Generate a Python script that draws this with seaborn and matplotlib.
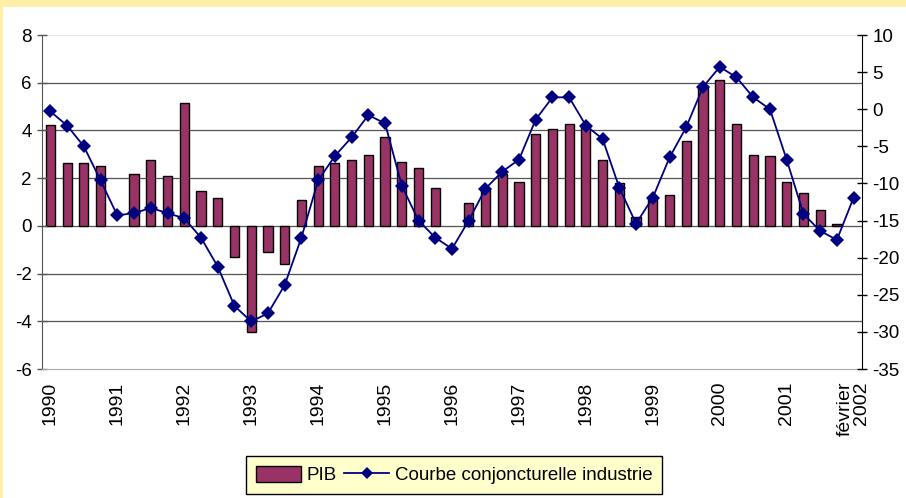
import numpy as np
import pandas as pd
import matplotlib
matplotlib.use("Agg")
import matplotlib.pyplot as plt
import seaborn as sns
from matplotlib.patches import Rectangle, Patch
from matplotlib.lines import Line2D

# ---- data ----
years = list(range(1990, 2002))
periods = [f"{y}T{q}" for y in years for q in range(1, 5)] + ["2002-02"]
tick_labels = [str(y) for y in years] + ["février\n2002"]

pib = [4.22, 2.63, 2.63, 2.49, np.nan, 2.18, 2.77, 2.11,
       5.17, 1.45, 1.15, -1.31, -4.45, -1.09, -1.61, 1.09,
       2.49, 2.63, 2.77, 2.99, 3.72, 2.69, 2.41, 1.59,
       np.nan, 0.95, 1.58, 2.18, 1.83, 3.86, 4.08, 4.28,
       4.20, 2.77, 1.80, 0.36, 1.16, 1.30, 3.57, 5.85,
       6.10, 4.28, 2.98, 2.91, 1.83, 1.38, 0.66, 0.08, np.nan]

courbe = [-0.3, -2.2, -5.0, -9.6, -14.3, -14.0, -13.3, -14.0,
          -14.7, -17.3, -21.2, -26.5, -28.6, -27.5, -23.7, -17.3,
          -9.6, -6.3, -3.8, -0.8, -1.9, -10.3, -15.0, -17.3,
          -18.8, -15.0, -10.7, -8.4, -6.8, -1.4, 1.6, 1.6,
          -2.2, -4.0, -10.6, -15.4, -11.9, -6.5, -2.4, 3.0,
          5.7, 4.3, 1.6, 0.0, -6.8, -14.1, -16.4, -17.6, -11.9]

df = pd.DataFrame({"periode": periods, "PIB": pib,
                   "pos": np.arange(len(periods)), "courbe": courbe})

plt.rcParams['font.family'] = ['Liberation Sans', 'DejaVu Sans']
plt.rcParams['axes.unicode_minus'] = False
fig = plt.figure(figsize=(9.06, 4.98), dpi=100)
fig.patch.set_facecolor("white")
yellow = "#FFEFA6"
fig.patches.append(Rectangle((0, 1 - 7/498), 1, 7/498, transform=fig.transFigure,
                             facecolor=yellow, edgecolor="none", zorder=0))
fig.patches.append(Rectangle((0, 0), 3/906, 1, transform=fig.transFigure,
                             facecolor=yellow, edgecolor="none", zorder=0))

ax = fig.add_axes([42/906, 1 - 369/498, 820/906, 334/498])
bar_color = "#993366"
sns.barplot(data=df, x="periode", y="PIB", order=periods, ax=ax,
            color=bar_color, edgecolor="black", linewidth=1.0, width=0.55,
            saturation=1, errorbar=None)
ax.set_xlim(-0.5, len(periods) - 0.5)
ax.set_ylim(-6, 8)
ax.set_yticks(np.arange(-6, 9, 2))
ax.set_xlabel("")
ax.set_ylabel("")
for yv in [6, 4, 2, 0, -2, -4]:
    ax.axhline(yv, color="#555555", linewidth=0.9, zorder=0.5)
ax.axhline(8, color="#e6e6e6", linewidth=0.9, zorder=0.5)

ax.set_xticks(list(range(0, 48, 4)) + [48])
ax.set_xticklabels(tick_labels, rotation=90, fontsize=14,
                   multialignment="right", linespacing=0.95)
ax.tick_params(axis="x", length=0, pad=9)
ax.tick_params(axis="y", direction="inout", length=7, width=1,
               color="#555555", labelsize=13.5, pad=4)

ax2 = ax.twinx()
sns.lineplot(data=df, x="pos", y="courbe", ax=ax2, color="#000080",
             linewidth=1.3, marker="D", markersize=7, markeredgewidth=0,
             zorder=5)
ax2.set_ylim(-35, 10)
ax2.set_yticks(np.arange(-35, 11, 5))
ax2.set_ylabel("")
ax2.set_xlabel("")
ax2.set_xlim(-0.5, len(periods) - 0.5)
ax2.tick_params(axis="y", direction="inout", length=7, width=1,
                color="black", labelsize=13.5, pad=4)

for a in (ax, ax2):
    a.spines["top"].set_visible(False)
    a.spines["left"].set_color("#555555")
    a.spines["bottom"].set_color("#aaaaaa")
    a.spines["right"].set_color("black")
    a.set_facecolor("none")
ax2.spines["left"].set_visible(False)
ax2.spines["bottom"].set_visible(False)
ax.spines["right"].set_visible(False)

handles = [Patch(facecolor=bar_color, edgecolor="black", linewidth=1.0),
           Line2D([0], [0], color="#000080", linewidth=1.3, marker="D",
                  markersize=6, markeredgewidth=0)]
leg = fig.legend(handles, ["PIB", "Courbe conjoncturelle industrie"],
                 loc="center", bbox_to_anchor=(454/906, 1 - 475/498),
                 ncol=2, fontsize=13.5, frameon=True, fancybox=False,
                 handlelength=2.4, handleheight=1.0, handletextpad=0.3,
                 columnspacing=0.4, borderpad=0.5, borderaxespad=0)
leg.get_frame().set_facecolor("#FFFFCC")
leg.get_frame().set_edgecolor("black")
leg.get_frame().set_linewidth(1.0)
leg.get_frame().set_alpha(1)

fig.savefig("out.png", dpi=100)
